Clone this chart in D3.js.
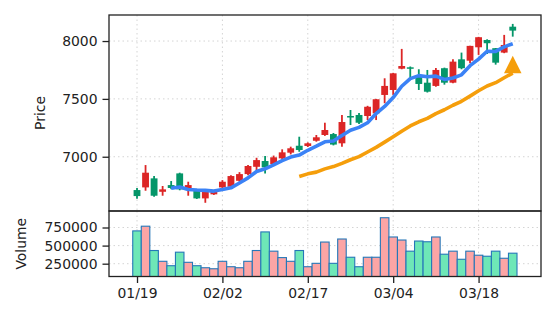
<!DOCTYPE html>
<html><head><meta charset="utf-8">
<script src="https://cdn.jsdelivr.net/npm/d3@7"></script>
<style>body{margin:0;background:#fff}svg{display:block}text{font-family:"DejaVu Sans",sans-serif;fill:#222}</style>
</head><body><svg id="c" width="556" height="322"></svg>
<script>
const dates=["01/19","01/20","01/21","01/22","01/25","01/26","01/27","01/28","01/29","02/01",
"02/02","02/03","02/04","02/05","02/08","02/09","02/10","02/11","02/12","02/16",
"02/17","02/18","02/19","02/22","02/23","02/24","02/25","02/26","03/01","03/02",
"03/04","03/05","03/08","03/09","03/10","03/11","03/12","03/15","03/16","03/17",
"03/18","03/19","03/22","03/23","03/24"];
const open=[6712,6735,6813,6697,6755,6856,6712,6712,6640,6675,6735,6740,6792,6850,6913,6963,6937,6986,7035,7095,7093,7138,7188,7196,7116,7352,7361,7352,7375,7534,7577,7761,7773,7692,7640,7612,7765,7640,7842,7830,7946,8009,7938,7900,8124];
const high=[6729,6928,6833,6747,6790,6862,6784,6722,6712,6705,6798,6840,6867,6928,6991,7006,7010,7064,7087,7173,7124,7188,7294,7205,7361,7404,7378,7440,7500,7678,7725,7932,7780,7756,7750,7767,7770,7842,7900,7960,8036,8015,7940,8053,8148];
const low=[6637,6706,6655,6663,6720,6710,6663,6635,6602,6670,6728,6733,6784,6840,6885,6856,6920,6971,7020,7043,7084,7130,7180,7098,7087,7274,7284,7317,7317,7462,7534,7756,7678,7577,7555,7605,7623,7635,7756,7808,7880,7888,7796,7895,8038];
const close=[6660,6862,6663,6718,6730,6718,6755,6640,6703,6697,6784,6833,6850,6920,6971,6908,6995,7038,7073,7058,7116,7168,7231,7105,7300,7341,7294,7432,7497,7612,7721,7784,7761,7629,7562,7750,7640,7822,7765,7958,8033,7981,7813,7966,8090];
const volume=[703000,768000,432000,283000,222000,409000,269000,222000,194000,180000,283000,208000,194000,283000,432000,689000,423000,334000,283000,432000,208000,255000,549000,255000,591000,339000,208000,339000,339000,885000,619000,577000,423000,563000,553000,619000,381000,423000,311000,423000,367000,353000,423000,325000,395000];
const ma5=[null,null,null,null,6727,6738,6717,6712,6709,6703,6716,6731,6773,6817,6872,6896,6929,6966,6997,7014,7056,7091,7129,7136,7184,7229,7254,7294,7373,7435,7511,7609,7675,7701,7691,7697,7668,7681,7708,7787,7844,7912,7910,7950,7977];
const ma20=[null,null,null,null,null,null,null,null,null,null,null,null,null,null,null,null,null,null,null,6829,6852,6867,6895,6915,6943,6974,7001,7041,7081,7126,7173,7221,7266,7302,7331,7373,7406,7445,7479,7524,7570,7611,7640,7683,7723];
const signalIndex=[44];
const signalValue=[7797];
const priceTicks=[7000,7500,8000];
const volumeTicks=[250000,500000,750000];
const xTickIndex=[0,10,20,30,40];

const svg=d3.select("#c");
const L=109,R=541,PT=15,PB=211,VT=211,VB=276.5;
const x=d3.scaleLinear().domain([-3.28,47.31]).range([L,R]);
const y=d3.scaleLinear().domain([6531,8225]).range([PB,PT]);
const yv=d3.scaleLinear().domain([73000,978000]).range([VB,VT]);
const step=x(1)-x(0);
const up="#dc2626",down="#059669",volUp="#fca5a5",volDown="#6ee7b7";
const FS="13.9px";
const idx=d3.range(dates.length);

svg.append("defs").append("clipPath").attr("id","vc").append("rect").attr("x",L).attr("y",VT).attr("width",R-L).attr("height",VB-VT);
svg.append("defs").append("clipPath").attr("id","pc").append("rect").attr("x",L).attr("y",PT).attr("width",R-L).attr("height",PB-PT);

// grids
const grid=svg.append("g").attr("stroke","#d4d4d4").attr("stroke-width",1).attr("stroke-dasharray","1.5,3");
xTickIndex.forEach(i=>{
  grid.append("line").attr("x1",x(i)).attr("x2",x(i)).attr("y1",PT).attr("y2",PB);
  grid.append("line").attr("x1",x(i)).attr("x2",x(i)).attr("y1",VT).attr("y2",VB);
});
priceTicks.forEach(t=>grid.append("line").attr("x1",L).attr("x2",R).attr("y1",y(t)).attr("y2",y(t)));
volumeTicks.forEach(t=>grid.append("line").attr("x1",L).attr("x2",R).attr("y1",yv(t)).attr("y2",yv(t)));

// volume bars
svg.append("g").attr("clip-path","url(#vc)").selectAll("rect").data(idx).join("rect")
  .attr("x",i=>x(i)-step/2).attr("width",step)
  .attr("y",i=>yv(volume[i])).attr("height",i=>VB+5-yv(volume[i]))
  .attr("fill",i=>close[i]>=open[i]?volUp:volDown)
  .attr("stroke","#2677b8").attr("stroke-width",1.1);

// candles
const cg=svg.append("g").attr("clip-path","url(#pc)");
cg.selectAll("line.w").data(idx).join("line").attr("class","w")
  .attr("x1",i=>x(i)).attr("x2",i=>x(i)).attr("y1",i=>y(high[i])).attr("y2",i=>y(low[i]))
  .attr("stroke",i=>close[i]>=open[i]?up:down).attr("stroke-width",1.8);
const bw=step*0.8;
cg.selectAll("rect").data(idx).join("rect")
  .attr("x",i=>x(i)-bw/2).attr("width",bw)
  .attr("y",i=>y(Math.max(open[i],close[i])))
  .attr("height",i=>Math.max(1.5,Math.abs(y(open[i])-y(close[i]))))
  .attr("fill",i=>close[i]>=open[i]?up:down);

// MA lines
const line=arr=>d3.line().defined(i=>arr[i]!=null).x(i=>x(i)).y(i=>y(arr[i]))(idx);
cg.append("path").attr("d",line(ma20)).attr("fill","none").attr("stroke","#f59e0b").attr("stroke-width",3.6).attr("stroke-linejoin","round");
cg.append("path").attr("d",line(ma5)).attr("fill","none").attr("stroke","#3b82f6").attr("stroke-width",3.6).attr("stroke-linejoin","round");

// signal marker
const ts=17.5;
cg.selectAll("path.sig").data(signalIndex).join("path").attr("class","sig")
  .attr("d",(d,k)=>{const cx=x(d),cy=y(signalValue[k]);return `M${cx},${cy-ts/2}L${cx+ts/2},${cy+ts/2}L${cx-ts/2},${cy+ts/2}Z`;})
  .attr("fill","#f59e0b");

// frames
svg.append("rect").attr("x",L).attr("y",PT).attr("width",R-L).attr("height",PB-PT).attr("fill","none").attr("stroke","#222").attr("stroke-width",1.3);
svg.append("rect").attr("x",L).attr("y",VT).attr("width",R-L).attr("height",VB-VT).attr("fill","none").attr("stroke","#222").attr("stroke-width",1.3);

// axes
const yAx=svg.append("g").attr("transform",`translate(${L},0)`)
  .call(d3.axisLeft(y).tickValues(priceTicks).tickSize(6.5).tickPadding(5).tickFormat(d3.format("d")));
const vAx=svg.append("g").attr("transform",`translate(${L},0)`)
  .call(d3.axisLeft(yv).tickValues(volumeTicks).tickSize(6.5).tickPadding(5).tickFormat(d3.format("d")));
const xAx=svg.append("g").attr("transform",`translate(0,${VB})`)
  .call(d3.axisBottom(x).tickValues(xTickIndex).tickSize(6.5).tickPadding(5).tickFormat(i=>dates[i]));
[yAx,vAx,xAx].forEach(a=>{
  a.select(".domain").remove();
  a.selectAll(".tick line").attr("stroke","#222").attr("stroke-width",1.3);
  a.selectAll("text").style("font-size",FS).attr("fill","#222");
});

svg.append("text").attr("transform",`translate(45,${(PT+PB)/2}) rotate(-90)`).attr("text-anchor","middle").style("font-size",FS).text("Price");
svg.append("text").attr("transform",`translate(26,${(VT+VB)/2}) rotate(-90)`).attr("text-anchor","middle").style("font-size",FS).text("Volume");
</script></body></html>
